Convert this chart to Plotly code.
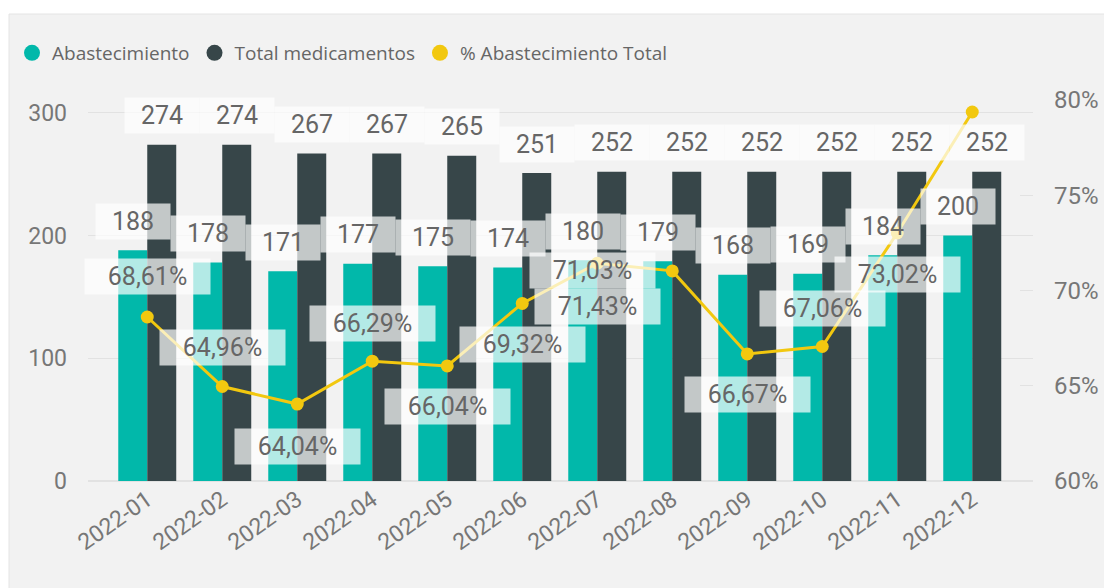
import plotly.graph_objects as go

# ---------------- data ----------------
months = ["2022-01", "2022-02", "2022-03", "2022-04", "2022-05", "2022-06",
          "2022-07", "2022-08", "2022-09", "2022-10", "2022-11", "2022-12"]
abastecimiento = [188, 178, 171, 177, 175, 174, 180, 179, 168, 169, 184, 200]
total_medicamentos = [274, 274, 267, 267, 265, 251, 252, 252, 252, 252, 252, 252]
pct_abastecimiento = [68.61, 64.96, 64.04, 66.29, 66.04, 69.32,
                      71.43, 71.03, 66.67, 67.06, 73.02, 79.37]
pct_label_visible = [True] * 11 + [False]
pct_ticks = [60, 65, 70, 75, 80]
count_ticks = [0, 100, 200, 300]

# ---------------- style / placement ----------------
TEAL = "#01B8AA"
DARK = "#374649"
YELLOW = "#F2C80F"
BG = "#F2F2F2"
TXT = "#666666"
AX = "#777777"
GRID = "#E2E2E2"
LBL_BG = "rgba(255,255,255,0.7)"
NUM_FONT = "Roboto, DejaVu Sans, sans-serif"
LEG_FONT = "Open Sans, Noto Sans, sans-serif"

W, H = 1104, 588
ML, MR, MT, MB = 88, 71, 100, 107
PW, PH = W - ML - MR, H - MT - MB

# label offsets for percentage labels (pixels)
pct_dy = [40, 39, -42, 38, -41, -41, -43, 0, -41, 38, -42, 0]
pct_dx = [0, 0, 0, 0, 0, 0, 0, -80, 0, 0, 0, 0]


def px_x(p):
    return (p - ML) / PW


def px_y(p):
    return (H - MB - p) / PH


fig = go.Figure()

fig.add_trace(go.Bar(x=months, y=abastecimiento, name="Abastecimiento",
                     marker=dict(color=TEAL, line=dict(width=0)), showlegend=False))
fig.add_trace(go.Bar(x=months, y=total_medicamentos, name="Total medicamentos",
                     marker=dict(color=DARK, line=dict(width=0)), showlegend=False))
fig.add_trace(go.Scatter(x=months, y=pct_abastecimiento, name="% Abastecimiento Total",
                         yaxis="y2", mode="lines+markers",
                         line=dict(color=YELLOW, width=3),
                         marker=dict(color=YELLOW, size=13), showlegend=False))

# legend-only entries with round symbols
for name, col in [("Abastecimiento", TEAL), ("Total medicamentos", DARK),
                  ("% Abastecimiento Total", YELLOW)]:
    fig.add_trace(go.Scatter(x=[None], y=[None], mode="markers", name=name,
                             marker=dict(color=col, size=16, symbol="circle")))

ann = []
for m, v in zip(months, abastecimiento):
    ann.append(dict(x=m, y=v, xref="x", yref="y", text=str(v), showarrow=False,
                    xshift=-14.5, yshift=29, bgcolor=LBL_BG, width=66, height=27,
                    borderpad=4, font=dict(family=NUM_FONT, size=25, color=TXT)))
for m, v in zip(months, total_medicamentos):
    ann.append(dict(x=m, y=v, xref="x", yref="y", text=str(v), showarrow=False,
                    xshift=14.5, yshift=29, bgcolor=LBL_BG, width=66, height=27,
                    borderpad=4, font=dict(family=NUM_FONT, size=25, color=TXT)))
for m, v, vis, dx, dy in zip(months, pct_abastecimiento, pct_label_visible, pct_dx, pct_dy):
    if not vis:
        continue
    ann.append(dict(x=m, y=v, xref="x", yref="y2",
                    text=f"{v:.2f}%".replace(".", ","), showarrow=False,
                    xshift=dx, yshift=dy, bgcolor=LBL_BG, width=117, height=27,
                    borderpad=4, font=dict(family=NUM_FONT, size=25, color=TXT)))

shapes = [dict(type="rect", xref="paper", yref="paper", layer="below",
               x0=px_x(9), x1=px_x(W + 2), y0=px_y(H + 2), y1=px_y(14),
               fillcolor=BG, line=dict(color="#E4E4E4", width=1))]

fig.update_layout(
    width=W, height=H,
    margin=dict(l=ML, r=MR, t=MT, b=MB, pad=0, autoexpand=False),
    paper_bgcolor="white", plot_bgcolor="rgba(0,0,0,0)",
    barmode="group", bargap=0.227, bargroupgap=0,
    annotations=ann, shapes=shapes,
    legend=dict(orientation="h", x=px_x(12), y=px_y(53), xanchor="left", yanchor="middle",
                bgcolor="rgba(0,0,0,0)", font=dict(family=LEG_FONT, size=19, color=TXT),
                itemclick=False, tracegroupgap=0),
    xaxis=dict(type="category", range=[-0.79, 11.81], tickangle=-35, automargin=False,
               tickfont=dict(family=NUM_FONT, size=23, color=AX),
               showgrid=False, showline=False, zeroline=False, ticks=""),
    yaxis=dict(range=[0, 310.5], tickvals=count_ticks, automargin=False,
               tickfont=dict(family=NUM_FONT, size=23, color=AX),
               showgrid=True, gridcolor=GRID, gridwidth=1, zeroline=True,
               zerolinecolor=GRID, showline=False, ticks="", ticklabelstandoff=20),
    yaxis2=dict(overlaying="y", side="right", range=[60, 80], tickvals=pct_ticks,
                ticktext=[f"{t}%" for t in pct_ticks], automargin=False,
                tickfont=dict(family=NUM_FONT, size=24, color=AX),
                showgrid=False, zeroline=False, showline=False,
                ticks="inside", ticklen=13, tickcolor=GRID, ticklabelstandoff=20),
    showlegend=True,
)

fig.write_html("out.html", config={"displayModeBar": False})
